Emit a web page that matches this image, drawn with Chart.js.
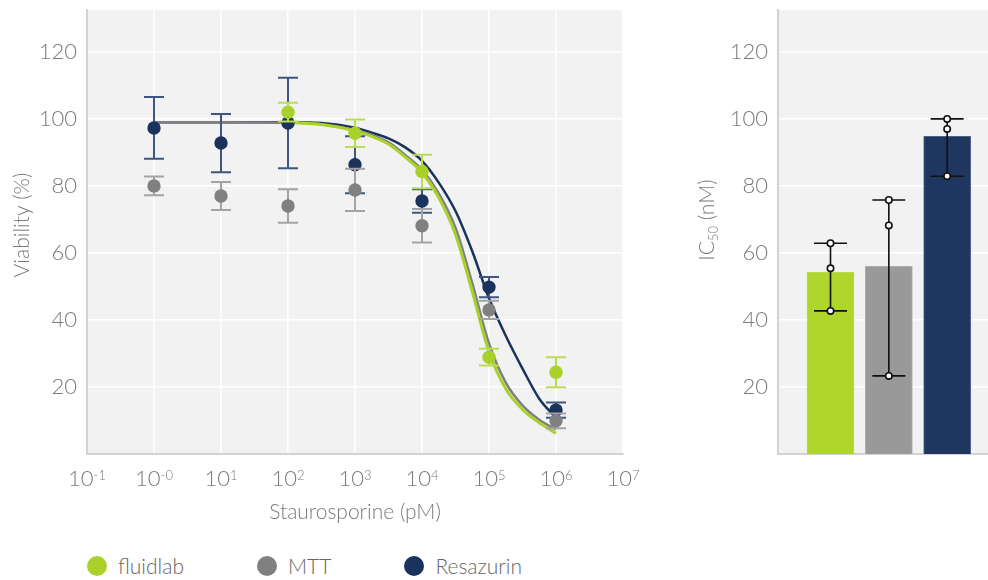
<!DOCTYPE html>
<html>
<head>
<meta charset="utf-8">
<script src="https://cdn.jsdelivr.net/npm/chart.js@4"></script>
<style>
  html, body { margin: 0; padding: 0; background: #fff; width: 988px; height: 580px; overflow: hidden; }
  #viability { position: absolute; left: 0; top: 0; }
  #ic50 { position: absolute; left: 660px; top: 0; }
  #legend { position: absolute; left: 87px; top: 556px; display: flex; gap: 73px; align-items: center;
            font: 300 21px Lato, sans-serif; color: #666; line-height: 20px; }
  #legend .item { display: flex; align-items: center; }
  #legend .dot { width: 20px; height: 20px; border-radius: 50%; margin-right: 11px; }
</style>
</head>
<body>
<canvas id="viability" width="650" height="530"></canvas>
<canvas id="ic50" width="328" height="530"></canvas>
<div id="legend"></div>
<script>
// ---- Dose–response data (Staurosporine, pM) ----
const seriesNames = ['fluidlab', 'MTT', 'Resazurin'];
const seriesColors = ['#a9d12a', '#808080', '#1b335c'];
const errorColors = ['#b9dc55', '#a3a3a3', '#3f5680'];

const doses = [1, 10, 100, 1000, 10000, 100000, 1000000];
const fluidlabDoses = [100, 1000, 10000, 100000, 1000000];
const fluidlabMean = [102.0, 95.7, 84.3, 28.9, 24.4];
const fluidlabErr = [2.8, 4.1, 5.0, 2.5, 4.5];
const mttMean = [80.0, 77.0, 74.0, 78.8, 68.1, 43.0, 9.9];
const mttErr = [2.8, 4.2, 5.0, 6.3, 5.0, 2.7, 2.2];
const resazurinMean = [97.3, 92.8, 98.8, 86.3, 75.5, 49.8, 13.1];
const resazurinErr = [9.2, 8.7, 13.5, 8.5, 3.5, 3.0, 2.3];

// Fitted curves sampled along the dose axis
const fitDoses = [1, 10, 100, 316, 1000, 1778, 3162, 5623, 10000, 17783, 31623, 56234, 100000, 177828, 316228, 562341, 1000000];
const fluidlabFit = [null, null, 98.9, 98.3, 96.4, 94.8, 92.5, 88.6, 84.0, 76.5, 65.5, 48.5, 30.5, 19.5, 13.3, 9.3, 6.2];
const mttFit = [99.0, 99.0, 98.9, 98.4, 96.7, 95.2, 93.0, 89.2, 84.8, 77.8, 67.5, 51.0, 33.0, 21.3, 14.5, 10.2, 7.3];
const resazurinFit = [99.0, 99.0, 99.0, 98.8, 97.4, 95.9, 94.2, 91.5, 87.5, 81.0, 72.5, 60.5, 46.5, 35.3, 25.5, 16.5, 10.8];

// Axis ticks
const doseTicks = [0.1, 1, 10, 100, 1000, 10000, 100000, 1000000, 10000000];
const doseExponents = ['-1', '-0', '1', '2', '3', '4', '5', '6', '7'];
const percentTicks = [20, 40, 60, 80, 100, 120];

// ---- IC50 data (nM) ----
const ic50Mean = [54.2, 56.0, 94.8];
const ic50Replicates = [[62.9, 55.4, 42.7], [75.8, 68.2, 23.3], [100.0, 97.0, 82.9]];
const barColors = ['#aed62c', '#999999', '#1f3760'];
const barBorders = ['#b8dc45', '#acacac', '#4c6289'];

const FONT = 'Lato, sans-serif';
const TICK_COLOR = '#7a7a7a';

const pts = (xs, ys) => xs.map((x, i) => ({ x, y: ys[i] }));

// Shared plugins
const plotBackground = {
  id: 'plotBackground',
  beforeDraw(chart) {
    const { ctx, chartArea: a } = chart;
    ctx.save();
    ctx.fillStyle = '#f2f2f2';
    ctx.fillRect(a.left, a.top, a.right - a.left, a.bottom - a.top);
    ctx.restore();
  }
};

function drawRotatedTitle(ctx, cx, cy, parts) {
  ctx.save();
  ctx.translate(cx, cy);
  ctx.rotate(-Math.PI / 2);
  ctx.fillStyle = TICK_COLOR;
  ctx.textBaseline = 'alphabetic';
  ctx.textAlign = 'left';
  let total = 0;
  parts.forEach(p => { ctx.font = `300 ${p.size}px ${FONT}`; p.w = ctx.measureText(p.text).width; total += p.w; });
  let x = -total / 2;
  parts.forEach(p => {
    ctx.font = `300 ${p.size}px ${FONT}`;
    ctx.fillText(p.text, x, 7 + (p.shift || 0));
    x += p.w;
  });
  ctx.restore();
}

// Error bars drawn just beneath each point series
const errorBars = {
  id: 'errorBars',
  beforeDatasetDraw(chart, args) {
    const ds = chart.data.datasets[args.index];
    if (!ds.errors) return;
    const { ctx, scales: { x, y } } = chart;
    ctx.save();
    ctx.strokeStyle = ds.errorColor;
    ctx.lineWidth = 2;
    ds.data.forEach((p, i) => {
      const px = x.getPixelForValue(p.x);
      const top = y.getPixelForValue(p.y + ds.errors[i]);
      const bot = y.getPixelForValue(p.y - ds.errors[i]);
      ctx.beginPath();
      ctx.moveTo(px, top); ctx.lineTo(px, bot);
      ctx.moveTo(px - 10, top); ctx.lineTo(px + 10, top);
      ctx.moveTo(px - 10, bot); ctx.lineTo(px + 10, bot);
      ctx.stroke();
    });
    ctx.restore();
  }
};

// Power-of-ten labels for the dose axis, plus axis titles
const doseLabels = {
  id: 'doseLabels',
  afterDraw(chart) {
    const { ctx, scales: { x } } = chart;
    ctx.save();
    ctx.fillStyle = TICK_COLOR;
    ctx.textBaseline = 'alphabetic';
    doseTicks.forEach((v, i) => {
      const px = x.getPixelForValue(v);
      ctx.font = `300 22px ${FONT}`;
      const wb = ctx.measureText('10').width;
      ctx.font = `300 13px ${FONT}`;
      const we = ctx.measureText(doseExponents[i]).width;
      const x0 = px - (wb + we) / 2;
      ctx.font = `300 22px ${FONT}`;
      ctx.fillText('10', x0, 486);
      ctx.font = `300 13px ${FONT}`;
      ctx.fillText(doseExponents[i], x0 + wb, 479.5);
    });
    ctx.font = `300 21px ${FONT}`;
    ctx.textAlign = 'center';
    const a = chart.chartArea;
    ctx.fillText('Staurosporine (pM)', (a.left + a.right) / 2, 519);
    drawRotatedTitle(ctx, 22, 225, [{ text: 'Viability (%)', size: 21 }]);
    ctx.restore();
  }
};

const yAxis = (width) => ({
  min: 0, max: 132.5,
  afterBuildTicks: s => { s.ticks = percentTicks.map(v => ({ value: v })); },
  afterFit: s => { s.width = width; s.paddingTop = 0; s.paddingBottom = 0; },
  grid: { color: '#ffffff', lineWidth: 1.5, drawTicks: false },
  border: { display: true, color: '#d2d2d2', width: 2 },
  ticks: { color: TICK_COLOR, padding: 10, font: { family: FONT, size: 22, weight: 300 } }
});

const curve = (ys, color, width) => ({
  data: pts(fitDoses, ys), showLine: true, pointRadius: 0, borderColor: color,
  borderWidth: width, cubicInterpolationMode: 'monotone', spanGaps: false, fill: false
});
const points = (xs, ys, errs, k) => ({
  label: seriesNames[k], data: pts(xs, ys), errors: errs, errorColor: errorColors[k],
  pointRadius: 6.7, pointHoverRadius: 6.7, pointBorderWidth: 0,
  backgroundColor: seriesColors[k], borderColor: seriesColors[k], showLine: false
});

new Chart(document.getElementById('viability'), {
  type: 'scatter',
  data: {
    // index 0 is painted last
    datasets: [
      points(fluidlabDoses, fluidlabMean, fluidlabErr, 0),
      points(doses, mttMean, mttErr, 1),
      points(doses, resazurinMean, resazurinErr, 2),
      curve(fluidlabFit, seriesColors[0], 3),
      curve(mttFit, seriesColors[1], 2.5),
      curve(resazurinFit, seriesColors[2], 2.5)
    ]
  },
  options: {
    responsive: false, animation: false, devicePixelRatio: 1,
    layout: { padding: { top: 10, right: 27, left: 0, bottom: 0 } },
    plugins: { legend: { display: false }, tooltip: { enabled: false } },
    events: [],
    scales: {
      x: {
        type: 'logarithmic', min: 0.1, max: 10000000,
        afterBuildTicks: s => { s.ticks = doseTicks.map(v => ({ value: v })); },
        afterFit: s => { s.height = 76; s.paddingLeft = 0; s.paddingRight = 0; },
        grid: { color: '#ffffff', lineWidth: 1.5, drawTicks: false },
        border: { display: true, color: '#d2d2d2', width: 2 },
        ticks: { display: false }
      },
      y: yAxis(87)
    }
  },
  plugins: [plotBackground, errorBars, doseLabels]
});

// Replicate range and individual replicate values on the IC50 bars
const replicateMarks = {
  id: 'replicateMarks',
  afterDatasetsDraw(chart) {
    const { ctx, scales: { x, y } } = chart;
    ctx.save();
    ctx.strokeStyle = '#111';
    ctx.lineWidth = 1.6;
    ic50Replicates.forEach((reps, i) => {
      const px = x.getPixelForValue(i + 1);
      const hi = y.getPixelForValue(Math.max(...reps));
      const lo = y.getPixelForValue(Math.min(...reps));
      ctx.beginPath();
      ctx.moveTo(px, hi); ctx.lineTo(px, lo);
      ctx.moveTo(px - 16.5, hi); ctx.lineTo(px + 16.5, hi);
      ctx.moveTo(px - 16.5, lo); ctx.lineTo(px + 16.5, lo);
      ctx.stroke();
      reps.forEach(r => {
        ctx.beginPath();
        ctx.arc(px, y.getPixelForValue(r), 3.2, 0, Math.PI * 2);
        ctx.fillStyle = '#fff';
        ctx.fill();
        ctx.stroke();
      });
    });
    ctx.restore();
  },
  afterDraw(chart) {
    drawRotatedTitle(chart.ctx, 47, 220, [
      { text: 'IC', size: 21 },
      { text: '50', size: 13, shift: 4 },
      { text: ' (nM)', size: 21 }
    ]);
  }
};

new Chart(document.getElementById('ic50'), {
  type: 'bar',
  data: {
    datasets: [{
      data: ic50Mean.map((v, i) => ({ x: i + 1, y: v })),
      backgroundColor: barColors, borderColor: barBorders, borderWidth: 1,
      barThickness: 47
    }]
  },
  options: {
    responsive: false, animation: false, devicePixelRatio: 1,
    layout: { padding: { top: 10, right: 0, left: 0, bottom: 0 } },
    plugins: { legend: { display: false }, tooltip: { enabled: false } },
    events: [],
    scales: {
      x: {
        type: 'linear', min: 0.1, max: 3.7, offset: false,
        afterFit: s => { s.height = 76; s.paddingLeft = 0; s.paddingRight = 0; },
        grid: { display: false },
        border: { display: true, color: '#d2d2d2', width: 2 },
        ticks: { display: false }
      },
      y: yAxis(118)
    }
  },
  plugins: [plotBackground, replicateMarks]
});

// Legend
const legend = document.getElementById('legend');
seriesNames.forEach((name, k) => {
  const item = document.createElement('div');
  item.className = 'item';
  const dot = document.createElement('span');
  dot.className = 'dot';
  dot.style.background = seriesColors[k];
  const label = document.createElement('span');
  label.textContent = name;
  item.appendChild(dot);
  item.appendChild(label);
  legend.appendChild(item);
});
</script>
</body>
</html>
